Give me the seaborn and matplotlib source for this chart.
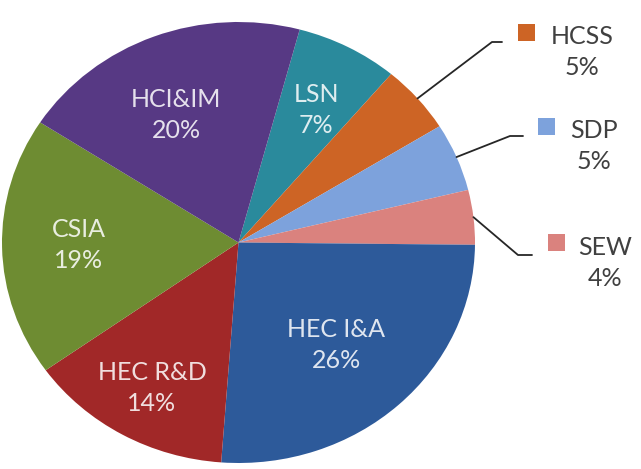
import matplotlib
matplotlib.use('Agg')
import matplotlib.pyplot as plt
import seaborn as sns
import numpy as np

# ---- data ----
categories = ['LSN', 'HCSS', 'SDP', 'SEW', 'HEC I&A', 'HEC R&D', 'CSIA', 'HCI&IM']
shares = [7, 5, 5, 4, 26, 14, 19, 20]
pct_labels = ['7%', '5%', '5%', '4%', '26%', '14%', '19%', '20%']

colors = sns.color_palette(['#2A8A9C', '#CD6425', '#7DA2DC', '#DA827E',
                            '#2D5A9A', '#A12828', '#6E8C32', '#573984'])

sns.set_theme(style='white')
plt.rcParams['font.family'] = ['Lato', 'DejaVu Sans']

W, H = 641, 469
fig = plt.figure(figsize=(W / 100, H / 100), dpi=100)
fig.patch.set_facecolor('white')
ax = fig.add_axes([2 / W, 6 / H, 473 / W, 441 / H])
wedges, _ = ax.pie(shares, colors=colors, startangle=75, counterclock=False,
                   radius=1, wedgeprops=dict(linewidth=0))
ax.set_aspect('auto')
ax.set_xlim(-1, 1)
ax.set_ylim(-1, 1)
ax.axis('off')

# inside label centres in pixels (layout)
inside_pos = {'LSN': (316, 110), 'HEC I&A': (336, 345), 'HEC R&D': (152, 388),
              'CSIA': (79, 245), 'HCI&IM': (176, 115)}

# outside label layout in pixels: square centre, text centre, elbow, end
out_layout = {
    'HCSS': dict(sq=(526, 33), txt=(582, 52), elbow=(492, 42), end=(502, 42)),
    'SDP': dict(sq=(546, 127), txt=(594, 146), elbow=(510, 136), end=(523, 136)),
    'SEW': dict(sq=(556, 243), txt=(605, 263), elbow=(518, 255), end=(532, 255)),
}

def px2data(px, py):
    return (px - 238.5) / 236.5, (242.5 - py) / 220.5

for w, cat, pct in zip(wedges, categories, pct_labels):
    mid = np.deg2rad((w.theta1 + w.theta2) / 2)
    if cat in inside_pos:
        x, y = px2data(*inside_pos[cat])
        ax.text(x, y, f'{cat}\n{pct}',
                ha='center', va='center', fontsize=18, color='white', alpha=0.85,
                linespacing=1.4)
    else:
        lay = out_layout[cat]
        x0, y0 = np.cos(mid), np.sin(mid)
        ex, ey = px2data(*lay['elbow'])
        nx, ny = px2data(*lay['end'])
        ax.plot([x0, ex, nx], [y0, ey, ny], color='#262626', lw=1.3, clip_on=False)
        sx, sy = lay['sq']
        fig.patches.append(plt.Rectangle(((sx - 8.5) / W, 1 - (sy + 8.5) / H), 17 / W, 17 / H,
                                         transform=fig.transFigure, facecolor=w.get_facecolor(),
                                         edgecolor='none'))
        tx, ty = lay['txt']
        fig.text(tx / W, 1 - ty / H, f'{cat}\n{pct}', ha='center', va='center',
                 fontsize=18, color='#404040', linespacing=1.4)

fig.savefig('out.png', dpi=100)
